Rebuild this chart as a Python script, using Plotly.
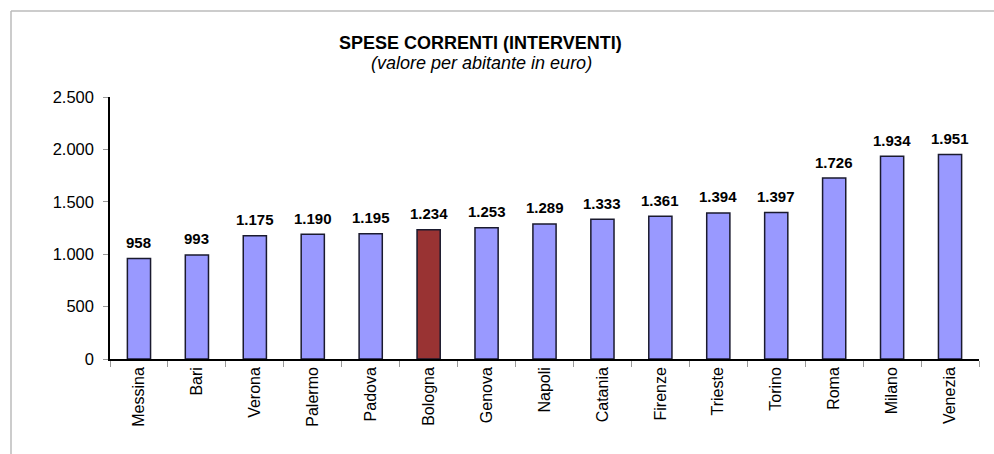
import plotly.graph_objects as go

cities = ["Messina", "Bari", "Verona", "Palermo", "Padova", "Bologna", "Genova", "Napoli",
          "Catania", "Firenze", "Trieste", "Torino", "Roma", "Milano", "Venezia"]
values = [958, 993, 1175, 1190, 1195, 1234, 1253, 1289, 1333, 1361, 1394, 1397, 1726, 1934, 1951]
highlight = "Bologna"

colors = ["#993333" if c == highlight else "#9999FF" for c in cities]

fig = go.Figure(go.Bar(
    x=cities, y=values,
    marker=dict(color=colors, line=dict(color="#1a1a2e", width=1.5)),
    width=0.4,
    hoverinfo="x+y",
    cliponaxis=False,
))

L, R, T, B = 110, 15, 97, 95
W, H = 994, 454
pw = W - L - R
ph = H - T - B

def fmt(v):
    return f"{v:,d}".replace(",", ".")

value_labels = [
    dict(text=f"<b>{fmt(v)}</b>", x=c, y=v, xref="x", yref="y", showarrow=False,
         yshift=16, yanchor="middle", xanchor="center",
         font=dict(family="Liberation Sans, Arial", size=15, color="black"))
    for c, v in zip(cities, values)
]

fig.update_layout(
    width=W, height=H,
    margin=dict(l=L, r=R, t=T, b=B),
    paper_bgcolor="white", plot_bgcolor="white",
    separators=",.",
    showlegend=False,
    font=dict(family="Liberation Sans, Arial", size=16, color="black"),
    xaxis=dict(showline=True, linecolor="black", linewidth=1.5, ticks="outside",
               tickson="boundaries", ticklen=6, tickcolor="#999999", tickangle=-90,
               tickfont=dict(size=16), showgrid=False),
    yaxis=dict(range=[0, 2500], dtick=500, tickformat=",d", showline=True, linecolor="black",
               linewidth=1.5, ticks="outside", ticklen=5, tickcolor="#999999",
               ticklabelstandoff=6,
               showgrid=False, zeroline=False, tickfont=dict(size=16.5)),
    annotations=[
        dict(text="<b>SPESE CORRENTI (INTERVENTI)</b>", xref="paper", yref="paper",
             x=(480 - L) / pw, y=1 + (T - 43) / ph, showarrow=False,
             font=dict(size=18, color="black"), xanchor="center", yanchor="middle"),
        dict(text="<i>(valore per abitante in euro)</i>", xref="paper", yref="paper",
             x=(481 - L) / pw, y=1 + (T - 63) / ph, showarrow=False,
             font=dict(size=18, color="black"), xanchor="center", yanchor="middle"),
    ] + value_labels,
    shapes=[
        dict(type="line", xref="paper", yref="paper", x0=(11 - L) / pw, x1=1 + (R + 5) / pw,
             y0=1 + (T - 11) / ph, y1=1 + (T - 11) / ph, line=dict(color="#bbbbbb", width=1.5)),
        dict(type="line", xref="paper", yref="paper", x0=(11 - L) / pw, x1=(11 - L) / pw,
             y0=1 + (T - 11) / ph, y1=-(B + 5) / ph, line=dict(color="#bbbbbb", width=1.5)),
    ],
)

fig.write_html("out.html", config={"displayModeBar": False},
               post_script="document.body.style.margin='0';document.body.style.overflow='hidden';")
